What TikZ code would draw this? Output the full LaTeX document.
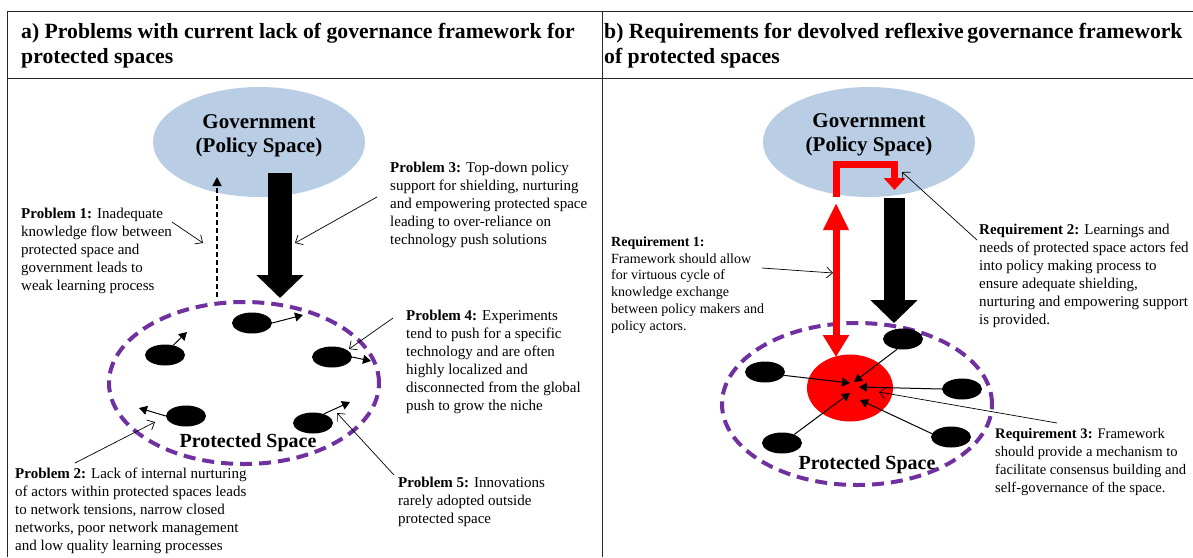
\documentclass[tikz,border=0pt]{standalone}
\usepackage{fontspec}
\setmainfont{Liberation Serif}
\usetikzlibrary{arrows.meta,shapes.geometric}
\definecolor{govblue}{RGB}{185,205,228}
\definecolor{pspurple}{RGB}{112,48,160}
\definecolor{redc}{RGB}{255,0,0}
\begin{document}
\begin{tikzpicture}[x=1pt,y=-1pt,
  frameline/.style={line width=1pt, draw=black!85},
  titletext/.style={anchor=north west, inner sep=0pt, align=left, font=\fontsize{21.7}{25}\selectfont\bfseries},
  lefttext/.style={anchor=north west, inner sep=0pt, align=left, font=\fontsize{15}{18}\selectfont},
  reqtext/.style={anchor=north west, inner sep=0pt, align=left, font=\fontsize{14.6}{18}\selectfont},
  smalltext/.style={anchor=north west, inner sep=0pt, align=left, font=\fontsize{14}{16.8}\selectfont},
  govell/.style={ellipse, fill=govblue, minimum width=212pt, minimum height=110pt, inner sep=0pt},
  govtext/.style={anchor=north, align=center, inner sep=0pt, font=\fontsize{21}{24}\selectfont\bfseries},
  psell/.style={ellipse, draw=pspurple, line width=4pt, dash pattern=on 12pt off 7pt, minimum width=270pt, minimum height=162pt, inner sep=0pt},
  pstext/.style={anchor=base, inner sep=0pt, font=\fontsize{20}{24}\selectfont\bfseries},
  actor/.style={ellipse, fill=black, minimum width=40pt, minimum height=21pt, inner sep=0pt},
  core/.style={ellipse, fill=redc, minimum width=86pt, minimum height=67pt, inner sep=0pt},
  actarrow/.style={line width=1pt, -{Triangle[length=8pt,width=9pt]}},
  note/.style={line width=0.7pt, -{Straight Barb[length=6pt,width=11pt]}},
  bigarrow/.style={line width=24pt, -{Triangle[length=23pt,width=46pt]}},
  dashflow/.style={line width=1.5pt, dash pattern=on 5pt off 3pt, -{Triangle[length=9pt,width=9pt]}},
  redboth/.style={draw=redc, line width=7pt, {Triangle[length=27pt,width=24pt]}-{Triangle[length=22pt,width=25pt]}},
  redbent/.style={draw=redc, line width=7pt, line join=miter, -{Triangle[length=12pt,width=21pt]}}
]
\useasboundingbox (0,0) rectangle (1193,557);
% frame
\draw[frameline] (7,557) -- (7,11) -- (1193,11);
\draw[frameline] (7,78) -- (1193,78);
\draw[frameline] (602,11) -- (602,557);
% titles
\node[titletext] (titleA) at (21,23) {a) Problems with current lack of governance framework for\\protected spaces};
\node[titletext] (titleB) at (604,23) {b) Requirements for devolved reflexive\,governance framework\\of protected spaces};

%%%%% LEFT PANEL
\node[govell] (gov1) at (259,142) {};
\node[govtext] (gov1t) at (259,114) {Government\\(Policy Space)};
\node[psell] (ps1) at (244,383) {};
\node[pstext] (ps1t) at (248,447) {Protected Space};

\coordinate (ba1s) at (280,173);
\coordinate (ba1e) at (280,298);
\draw[bigarrow] (ba1s) -- (ba1e);
\coordinate (df1s) at (217,297);
\coordinate (df1e) at (217,177);
\draw[dashflow] (df1s) -- (df1e);

\node[actor] (a1) at (252,323) {};
\node[actor] (a2) at (165,355) {};
\node[actor] (a3) at (332,357) {};
\node[actor] (a4) at (186,416) {};
\node[actor] (a5) at (313,423) {};
\coordinate (a1t) at (303,315);
\coordinate (a2t) at (187,332);
\coordinate (a3t) at (371,361);
\coordinate (a4t) at (139,408);
\coordinate (a5t) at (350,402);
\draw[actarrow] (a1.east) -- (a1t);
\draw[actarrow] (a2.50) -- (a2t);
\draw[actarrow] (a3.east) -- (a3t);
\draw[actarrow] (a4.west) -- (a4t);
\draw[actarrow] (a5.40) -- (a5t);

\node[lefttext] (p1) at (21,207.7) {\textbf{Problem 1:} Inadequate\\knowledge flow between\\protected space and\\government leads to\\weak learning process};
\node[lefttext] (p3) at (390,161.7) {\textbf{Problem 3:} Top-down policy\\support for shielding, nurturing\\and empowering protected space\\leading to over-reliance on\\technology push solutions};
\node[lefttext] (p4) at (406,309.7) {\textbf{Problem 4:} Experiments\\tend to push for a specific\\technology and are often\\highly localized and\\disconnected from the global\\push to grow the niche};
\node[lefttext] (p2) at (15,467.7) {\textbf{Problem 2:} Lack of internal nurturing\\of actors within protected spaces leads\\to network tensions, narrow closed\\networks, poor network management\\and low quality learning processes};
\node[lefttext] (p5) at (398,476.7) {\textbf{Problem 5:} Innovations\\rarely adopted outside\\protected space};

\coordinate (n1s) at (172,222);
\coordinate (n1e) at (203,243);
\coordinate (n3s) at (377,197);
\coordinate (n3e) at (295,243);
\coordinate (n4s) at (393,318);
\coordinate (n4e) at (349,349);
\coordinate (n2s) at (75,463);
\coordinate (n2e) at (155,422);
\coordinate (n5s) at (394,475);
\coordinate (n5e) at (337,413);
\draw[note] (n1s) -- (n1e);
\draw[note] (n3s) -- (n3e);
\draw[note] (n4s) -- (n4e);
\draw[note] (n2s) -- (n2e);
\draw[note] (n5s) -- (n5e);

%%%%% RIGHT PANEL
\node[govell] (gov2) at (869,142) {};
\node[govtext] (gov2t) at (869,113) {Government\\(Policy Space)};
\node[psell] (ps2) at (857,404) {};
\node[pstext] (ps2t) at (867,469) {Protected Space};
\node[core] (core2) at (850,388) {};

\coordinate (rb1) at (836,197);
\coordinate (rb2) at (836,164);
\coordinate (rb3) at (894.5,164);
\coordinate (rb4) at (894.5,190);
\draw[redbent] (rb1) -- (rb2) -- (rb3) -- (rb4);
\coordinate (rd1) at (836,203);
\coordinate (rd2) at (836,357);
\draw[redboth] (rd1) -- (rd2);

\coordinate (ba2s) at (894,198);
\coordinate (ba2e) at (894,323);
\draw[bigarrow, line width=21pt] (ba2s) -- (ba2e);

\node[actor] (b1) at (903,339) {};
\node[actor] (b2) at (765,372) {};
\node[actor] (b3) at (962,389) {};
\node[actor] (b4) at (782,443) {};
\node[actor] (b5) at (951,437) {};
\coordinate (b1t) at (854,382);
\coordinate (b2t) at (850,383);
\coordinate (b3t) at (859,387);
\coordinate (b4t) at (850,393);
\coordinate (b5t) at (860,400);
\draw[actarrow] (b1.-120) -- (b1t);
\draw[actarrow] (b2.-10) -- (b2t);
\draw[actarrow] (b3.west) -- (b3t);
\draw[actarrow] (b4.35) -- (b4t);
\draw[actarrow] (b5.170) -- (b5t);

\node[smalltext] (r1) at (611,236.4) {\textbf{Requirement 1:}\\Framework should allow\\for virtuous cycle of\\knowledge exchange\\between policy makers and\\policy actors.};
\node[lefttext] (r2) at (979,223.7) {\textbf{Requirement 2:} Learnings and\\needs of protected space actors fed\\into policy making process to\\ensure adequate shielding,\\nurturing and empowering support\\is provided.};
\node[reqtext] (r3) at (995,428) {\textbf{Requirement 3:} Framework\\should provide a mechanism to\\facilitate consensus building and\\self-governance of the space.};

\coordinate (m1s) at (762,268);
\coordinate (m1e) at (833,273);
\coordinate (m2s) at (977,240);
\coordinate (m2e) at (902,172);
\coordinate (m3s) at (1057,423);
\coordinate (m3e) at (879,392);
\draw[note] (m1s) -- (m1e);
\draw[note] (m2s) -- (m2e);
\draw[note] (m3s) -- (m3e);
\end{tikzpicture}
\end{document}
